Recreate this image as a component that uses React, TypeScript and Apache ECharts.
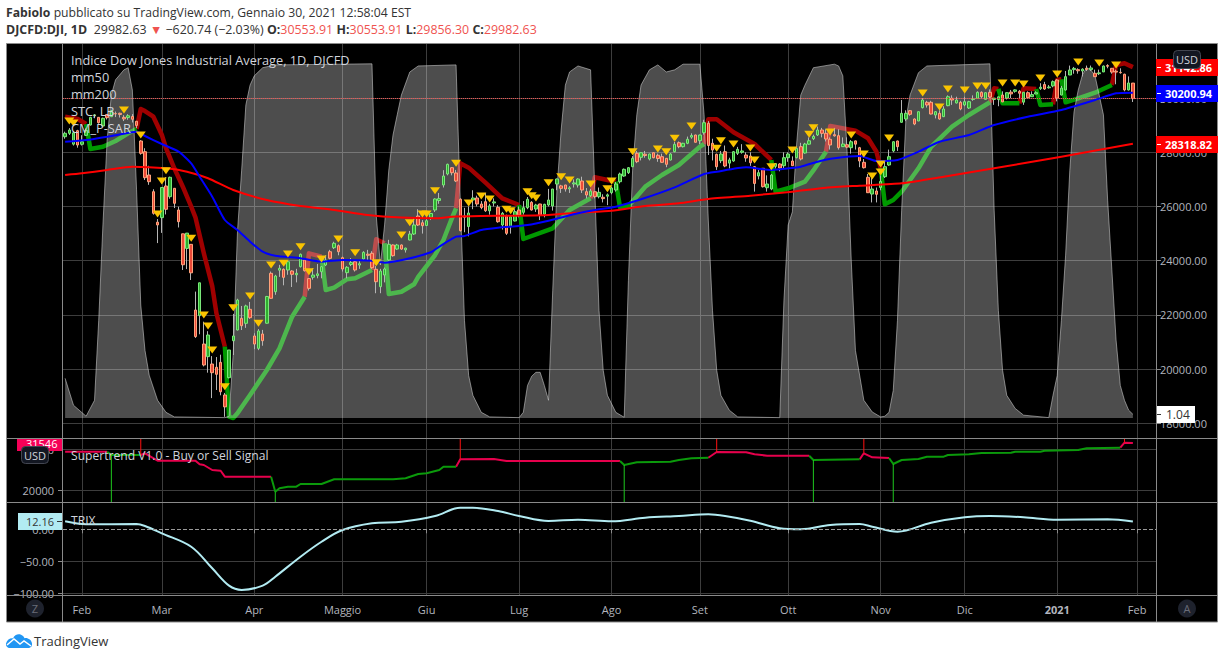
import React, { useEffect, useRef } from "react";
import * as echarts from "echarts";

const FONT = '"Open Sans", "Noto Sans", sans-serif';
const BAR_COUNT = 260;
const categories = Array.from({ length: BAR_COUNT }, (_, i) => String(i));
const monthLabels: Record<number, string> = {
  4: "Feb", 23: "Mar", 45: "Apr", 66: "Maggio", 86: "Giu", 108: "Lug", 130: "Ago",
  151: "Set", 172: "Ott", 194: "Nov", 214: "Dic", 236: "2021", 255: "Feb",
};

// [open, high, low, close]
const ohlc: number[][] = [
  [28575,28760,28500,28700],[28700,28892,28640,28823],[28300,28780,28250,28720],[28797,28830,28170,28269],[28295,28630,28250,28390],
  [28627,28879,28600,28807],[29007,29308,28992,29290],[29350,29408,29256,29379],[29290,29300,29056,29092],[28970,29278,28950,29255],
  [29390,29415,29210,29276],[29314,29568,29300,29535],[29428,29504,29300,29423],[29440,29463,29283,29398],[29290,29371,29152,29232],
  [29280,29406,29200,29348],[29320,29409,29100,29219],[29146,29146,28892,28992],[28417,28450,27912,27963],[28022,28150,26978,27063],
  [27162,27502,26800,26915],[26546,26636,25700,25749],[25420,25538,24650,25320],[25590,26703,25026,26703],[26756,27084,25706,25897],
  [26362,27102,26286,27077],[26672,26672,25943,26118],[25871,25994,25226,25440],[24992,24992,23657,23851],[24453,25020,23690,25018],
  [24604,24604,23288,23553],[22180,22860,21150,21200],[21973,23185,21285,23185],[20925,21750,20100,20152],[20460,21400,19868,21258],
  [20188,20480,18930,19868],[20067,20445,19230,19808],[20250,20531,19034,19165],[19045,19120,18240,18607],[19683,20705,19660,20705],
  [21048,22040,20520,21222],[21443,22595,21427,22550],[21875,22330,21443,21600],[21690,22378,21522,22330],[22206,22480,21852,21897],
  [21222,21323,20735,20925],[20767,21477,20700,21406],[21296,21447,20863,21048],[21693,22700,21680,22680],[23535,23600,22600,22613],
  [22856,23480,22742,23435],[23650,23848,23403,23720],[23683,23716,23092,23387],[23657,23995,23480,23963],[23620,23650,23030,23498],
  [23480,23700,23200,23537],[23778,24264,23750,24236],[24026,24050,23600,23630],[23340,23350,22900,22980],[23390,23720,23300,23470],
  [23450,23880,23350,23515],[23594,23800,23350,23778],[23841,24200,23800,24026],[24332,24400,24050,24088],[24480,24700,24430,24642],
  [24554,24600,24200,24332],[24111,24150,23600,23694],[23558,23800,23350,23757],[23860,24100,23800,23930],[23963,24000,23600,23657],
  [23840,24000,23700,23890],[24063,24350,24000,24310],[24240,24400,24000,24200],[24273,24350,23700,23742],[23683,23800,22800,23225],
  [23041,23700,22800,23620],[23472,23750,23200,23694],[24026,24770,24000,24605],[24580,24600,24150,24185],[24430,24620,24400,24580],
  [24580,24600,24400,24430],[24400,24480,24300,24465],[24764,25100,24750,24985],[24985,25600,24950,25317],[25649,25900,25280,25317],
  [25400,25500,25000,25290],[25300,25550,25280,25475],[25600,25750,25500,25742],[25871,26300,25800,26277],[26220,26500,26100,26290],
  [26793,27340,26700,27125],[27199,27580,27150,27557],[27432,27450,27150,27247],[27236,27350,26900,26941],[26270,26300,25080,25107],
  [25650,25950,25050,25605],[25260,26000,24900,25760],[26240,26600,25900,26314],[26314,26400,26000,26092],[26092,26200,25900,25960],
  [26177,26500,25800,25845],[25840,26100,25700,26024],[26130,26300,26000,26170],[25970,26050,25400,25439],[25317,25800,25150,25749],
  [25649,25700,24950,25011],[25255,25640,25000,25624],[25465,25900,25450,25808],[25871,26000,25600,25686],[25786,26200,25700,25956],
  [25956,26350,25900,26266],[26155,26200,25850,25871],[25907,26100,25800,26055],[26092,26100,25500,25686],[25712,26100,25600,26081],
  [26055,26650,26000,26240],[26018,26650,25850,26645],[26830,27030,26600,27015],[26760,26800,26500,26670],[26793,26800,26550,26645],
  [26650,26750,26500,26690],[26830,27000,26700,26870],[26793,27040,26700,27015],[26941,27100,26500,26609],[26546,26680,26300,26424],
  [26398,26650,26350,26572],[26546,26550,26300,26362],[26362,26700,26300,26524],[26340,26450,26150,26290],[26380,26480,26050,26430],
  [26509,26730,26450,26683],[26609,26900,26550,26830],[26915,27250,26850,27199],[27125,27400,27100,27373],[27247,27450,27200,27432],
  [27469,27860,27450,27779],[27963,28050,27600,27653],[27816,28000,27700,27985],[27930,28050,27800,27880],[27753,27950,27700,27937],
  [27985,28000,27780,27800],[27890,27950,27650,27770],[27838,27950,27620,27631],[27779,27780,27450,27557],[27716,27970,27700,27937],
  [28022,28380,28000,28295],[28354,28400,28150,28207],[28207,28350,28180,28332],[28332,28580,28300,28480],[28560,28700,28500,28620],
  [28638,28650,28369,28369],[28428,28650,28300,28638],[28723,29200,28650,29092],[29070,29150,27900,28250],[28332,28500,27700,28085],
  [27926,27950,27350,27469],[27690,28050,27600,27937],[28022,28250,27450,27494],[27600,27800,27400,27720],[27679,28050,27650,28022],
  [27963,28200,27900,28110],[28000,28300,27950,28050],[27900,28000,27650,27790],[27863,28000,27500,27616],[27469,27480,26550,26850],
  [27125,27350,27000,27247],[27410,27420,26700,26731],[26693,27150,26550,26830],[26645,27200,26600,27162],[27480,27600,27400,27584],
  [27568,27600,27300,27420],[27505,28000,27400,27800],[27800,28000,27650,27937],[27679,27850,27500,27505],[27800,28150,27780,28149],
  [28207,28350,27700,27753],[27974,28350,27950,28306],[28300,28550,28280,28426],[28500,28650,28450,28587],[28638,28950,28600,28823],
  [28823,28900,28550,28700],[28700,28850,28400,28490],[28480,28550,28100,28270],[28650,28900,28580,28606],[28613,28850,28100,28170],
  [28207,28550,28200,28306],[28280,28550,28150,28190],[28170,28450,27950,28390],[28420,28430,28100,28300],[28170,28200,27450,27679],
  [27630,27750,27400,27432],[27077,27200,26500,26509],[26460,27050,26150,26645],[26572,26700,26150,26450],[26700,27150,26600,26925],
  [27100,27650,27050,27469],[27531,28100,27500,27838],[28048,28400,28000,28390],[28417,28430,28050,28207],[29107,29930,29100,29439],
  [29229,29550,29150,29439],[29535,29560,29350,29402],[29229,29250,29000,29044],[29155,29500,29150,29498],[29646,30000,29620,29930],
  [29845,29900,29650,29745],[29845,29900,29400,29413],[29376,29520,29250,29498],[29439,29550,29200,29229],[29314,29700,29300,29598],
  [29720,30100,29700,30051],[29993,30100,29750,29930],[29820,30050,29800,29930],[29845,29900,29550,29598],[29745,30050,29700,29867],
  [29634,29900,29600,29867],[29950,30100,29900,29969],[29993,30250,29980,30214],[30214,30250,30000,30051],[29955,30200,29940,30199],
  [30214,30320,30000,30040],[29950,30000,29750,29999],[29950,30050,29700,30046],[30114,30250,29850,29861],[30000,30200,29950,30199],
  [30220,30300,30000,30154],[30250,30320,30200,30303],[30250,30300,30000,30179],[29850,30200,29750,30216],[30200,30250,30000,30015],
  [30050,30250,30050,30129],[30150,30250,30150,30199],[30350,30550,30300,30403],[30500,30600,30300,30335],[30380,30480,30350,30409],
  [30450,30650,30400,30606],[30668,30700,29880,30000],[30114,30450,30100,30370],[30299,31000,30280,30790],[30852,31200,30850,31037],
  [31050,31150,30900,31097],[31050,31100,30900,31008],[31000,31100,30800,31068],[31100,31200,31000,31060],[31050,31200,31000,31112],
  [30915,31050,30780,30790],[30900,31050,30850,30930],[30965,31200,30960,31184],[31200,31250,31100,31176],[31100,31100,30900,30960],
  [30990,31050,30510,30960],[30950,31100,30900,30937],[30880,30900,30250,30303],[30299,30800,30280,30558],[30553.91,30553.91,29856.3,29982.63],
];

const mm50: number[][] = [
  [0,28391],[5,28454],[11,28601],[17,28760],[19,28601],[23,28306],[27,28022],[30,27594],[32,27100],[35,26362],[38,25502],[41,25133],
  [44,24701],[47,24332],[50,24185],[56,24089],[61,23963],[66,24026],[73,24000],[76,23926],[81,24052],[87,24310],[89,24517],[93,24886],
  [95,24911],[99,25133],[103,25218],[110,25318],[115,25476],[122,25749],[127,25897],[131,25993],[137,26266],[145,26708],[152,27199],
  [155,27284],[162,27447],[168,27347],[170,27373],[175,27469],[179,27653],[183,27779],[189,27863],[193,27679],[198,27716],[203,28022],
  [208,28391],[215,28638],[221,29007],[229,29314],[237,29561],[245,29930],[250,30177],[254,30200.94],
];
const mm200: number[][] = [
  [0,27162],[4,27225],[10,27347],[16,27469],[24,27410],[29,27284],[34,27041],[40,26609],[48,26240],[56,26018],[64,25871],[72,25686],
  [80,25594],[88,25565],[92,25624],[99,25650],[107,25661],[115,25686],[122,25771],[130,25845],[138,26018],[146,26118],[153,26277],
  [163,26399],[173,26546],[181,26694],[189,26768],[199,26856],[209,27100],[221,27410],[237,27838],[254,28318.82],
];
const stc: number[][] = [
  [0,11.2],[2,3.6],[5,0.5],[7,5],[8,27.6],[9,54.5],[10,78.5],[11,91.2],[12,95.5],[14,98.3],[15,98.9],[16,92.6],[17,64.4],[18,31.9],[19,19.1],[20,12.1],
  [22,5],[24,1.6],[26,0.3],[38,0.1],[39,0.5],[40,18.3],[41,52.5],[42,70],[43,88.4],[44,94],[45,96.6],[47,98.9],[50,99.7],[73,100],[74,57.3],[75,43.2],
  [76,54.5],[77,70],[78,79.9],[79,85.6],[80,91.2],[82,97.7],[84,99.4],[93,99.7],[94,61.5],[95,27.6],[96,12],[97,6.4],[99,1.6],[101,0.3],[108,0.1],[109,1.6],
  [110,9.2],[111,11.8],[112,12.9],[113,12.9],[114,9.2],[115,5],[116,36.1],[117,64.4],[118,81.3],[119,94],[120,97.7],[122,99.4],[125,98.3],[126,64.4],
  [127,30.4],[128,13.5],[129,6.4],[131,1.6],[133,0.2],[134,38.9],[135,70],[136,85.6],[137,94],[139,98.3],[141,99.7],[143,97.7],[145,98.3],[147,99.9],
  [151,99.9],[152,85.6],[153,55.9],[154,30.4],[155,13.5],[156,6.4],[158,2.2],[160,0.3],[170,0.1],[171,33.3],[172,54.5],[173,58.2],[174,77.1],[175,91.2],
  [176,94],[178,98.9],[183,99.9],[184,99.4],[185,96.6],[186,75.7],[187,44.6],[188,19.1],[190,5],[192,1.7],[194,0.3],[195,0.5],[196,1.6],[197,7.8],[198,27.6],
  [199,58.7],[200,84.2],[201,91.2],[203,97.5],[205,99.4],[220,100],[221,58.7],[222,30.4],[223,13.5],[224,6.4],[226,2.7],[228,0.8],[234,0.1],[235,6.4],
  [236,12],[237,27.6],[238,46],[239,70],[240,86.4],[241,92.6],[242,96.9],[243,98.9],[244,98.3],[245,96.6],[247,85.6],[248,61.5],[249,41.8],[250,22],
  [251,9.2],[252,5],[253,2.2],[254,1.04],
];
const stopUp: number[][][] = [
  [[5,29044],[6,28125],[9,28207],[12,28417],[15,28700],[17,28860]],
  [[38,20827],[39,18244],[40,18195],[41,18368],[44,19045],[48,19967],[51,20768],[54,21934],[57,22672]],
  [[61,24148],[62,22919],[64,23004],[67,23314],[69,23350],[73,23657]],
  [[76,24643],[77,22770],[80,22856],[83,23129],[84,23400],[88,24210],[90,24764],[92,25560],[93,25934]],
  [[108,26055],[109,24801],[116,25195],[120,25871],[125,26303]],
  [[131,26915],[132,25971],[134,26018],[138,26731],[142,27162],[146,27531],[151,28207],[152,28306]],
  [[168,27716],[169,26546],[172,26672],[176,26915],[178,27330],[181,28022]],
  [[194,27410],[195,26081],[197,26240],[199,26546],[203,27410],[206,28200],[211,28945],[215,29377],[220,29845]],
  [[222,30336],[223,29808],[227,29808]],
  [[231,30336],[232,29745],[235,29771]],
  [[237,30692],[238,29845],[241,29993],[245,30199],[249,30483]],
];
const stopDown: number[][][] = [
  [[0,29314],[3,29229],[5,29044]],
  [[17,28860],[18,29598],[19,29520],[21,29314],[23,28650],[24,28150],[26,27400],[28,26731],[30,25993],[31,25600],[33,24273],[35,23060],[36,22059],[38,20827]],
  [[57,22672],[58,24273],[61,24148]],
  [[73,23657],[74,24790],[76,24643]],
  [[93,25934],[94,27594],[96,27432],[100,26880],[104,26303],[108,26055]],
  [[125,26303],[126,27077],[129,26980],[131,26915]],
  [[152,28306],[153,29218],[155,29218],[159,28738],[164,28306],[168,27716]],
  [[181,28022],[182,28970],[188,28800],[191,28517],[193,28022],[194,27410]],
  [[220,29845],[221,30362],[222,30336]],
  [[227,29808],[228,30362],[231,30336]],
  [[235,29771],[236,30668],[237,30692]],
  [[249,30483],[250,31221],[252,31284],[254,31142.86]],
];
const sarMarks: number[][] = [
  [1,29155],[2,29081],[14,29561],[18,28638],[24,27321],[23,26941],[22,25723],[30,24827],[33,21996],[34,21590],[35,20705],[38,19351],[40,22266],
  [44,22698],[46,21690],[49,23841],[52,23904],[53,24247],[56,24517],[58,23594],[61,24063],[65,24801],[69,24295],[74,23926],[80,24948],[82,25402],
  [85,25723],[86,25723],[88,26583],[93,27594],[96,26129],[99,26387],[101,26277],[105,25897],[106,25845],[110,26546],[111,26398],[112,26314],[115,26878],
  [118,27100],[120,26978],[125,26830],[129,26657],[130,26941],[135,28022],[141,28122],[143,28022],[145,28517],[149,28970],[155,28148],[156,28428],
  [159,28306],[163,28159],[164,27716],[168,27469],[173,28085],[177,28664],[178,28908],[182,28749],[187,28638],[190,27937],[192,27125],[194,27568],
  [194,27273],[196,28528],[204,30188],[208,29672],[210,30336],[214,30299],[217,30447],[219,30447],[223,30557],[226,30557],[228,30520],[232,30742],
  [236,30889],[241,31332],[246,31295],[250,31221],
];
const superDown: number[][][] = [
  [[0,29415],[10,29415]],
  [[18,28610],[19,29024],[22,27220],[31,27220],[32,26340],[33,26170],[35,24950],[37,24780],[38,23320],[49,23320]],
  [[93,25760],[94,27560],[102,27630],[105,27150],[132,27150]],
  [[153,27950],[155,29340],[162,29270],[164,28780],[167,28440],[177,28440]],
  [[189,27560],[190,29024],[192,28050],[196,27880]],
  [[251,30390],[252,31610],[254,31546]],
];
const superUp: number[][][] = [
  [[10,29415],[11,28610],[18,28610]],
  [[49,23320],[50,19660],[51,20490],[53,20880],[55,20880],[56,21540],[61,21540],[64,22680],[78,22680],[81,22930],[84,23980],[86,24150],[89,24950],[90,25760],[93,25760]],
  [[132,27150],[133,26170],[136,26830],[144,26980],[146,27390],[149,27800],[153,27950]],
  [[177,28440],[178,27390],[189,27560]],
  [[196,27880],[197,26410],[199,27390],[203,27630],[205,28200],[209,28200],[210,28610],[215,28780],[218,29100],[225,29170],[226,29415],[232,29415],[233,29660],[241,29830],[243,30240],[251,30390]],
];
const buySignals: number[][] = [[11,28610],[50,19660],[133,26170],[178,27390],[197,26410]];
const sellSignals: number[][] = [[18,28610],[94,27560],[155,29340],[190,29024],[252,31610]];
const trix: number[][] = [
  [0,12.5],[5,7.8],[17,8.3],[19,5.2],[23,-6.3],[30,-27.2],[35,-60.9],[39,-88.1],[42,-94.8],[47,-88.1],[50,-74.1],[56,-42.8],[61,-19.4],[66,-1.1],
  [73,9.4],[80,11.9],[88,20.8],[94,33.8],[97,33.8],[103,28.6],[108,20.8],[115,13],[122,15],[130,12.5],[138,18.1],[146,20.8],[153,23.4],[157,20.8],
  [163,13.4],[170,1.6],[175,0],[182,6.7],[189,8.3],[192,4.1],[198,-3.8],[206,10.3],[214,18.8],[220,20.8],[228,18.8],[236,15],[248,15.6],[254,12.16],
];
const priceTicks = [18000, 20000, 22000, 24000, 26000, 28000, 30000];
const superTicks = [20000, 30000];
const trixLabelTicks = [-100, -50, 0];
const trixGridTicks = [-100, -50];

echarts.graphic.registerShape(
  "tvcloud",
  echarts.graphic.extendPath(
    "M0 9.5C1 6 4 4 7 4.4C8.5 1 12 -0.5 15 0.8C17 1.6 18 3 18.5 4.2C22 3.6 25.5 6 26 9.5C26.4 12.5 24.5 14 22 14L4 14C1.5 14 -0.4 12 0 9.5Z",
    {}
  )
);

const isMonth = (i: number) => monthLabels[i] !== undefined;

function xAxisOf(gridIndex: number, showLabels: boolean) {
  return {
    type: "category",
    gridIndex,
    data: categories,
    boundaryGap: true,
    axisLine: { show: false },
    axisTick: {
      show: showLabels,
      alignWithLabel: true,
      interval: (i: number) => isMonth(i),
      length: 4,
      lineStyle: { color: "#8a8a8a" },
    },
    axisLabel: {
      show: showLabels,
      interval: (i: number) => isMonth(i),
      hideOverlap: false,
      formatter: (_v: string, i: number) =>
        monthLabels[i] === "2021" ? "{b|2021}" : monthLabels[i] ?? "",
      color: "#b2b5be",
      fontFamily: FONT,
      fontSize: 11,
      margin: 9,
      rich: { b: { fontWeight: "bold", color: "#b2b5be", fontFamily: FONT, fontSize: 11 } },
    },
    splitLine: {
      show: true,
      alignWithLabel: true,
      interval: (i: number) => isMonth(i),
      lineStyle: { color: "#3d3d3d", width: 1 },
    },
  };
}

function pricedLine(data: number[][], color: string, width: number, z: number, extra: object = {}) {
  return {
    type: "line",
    xAxisIndex: 0,
    yAxisIndex: 0,
    data,
    showSymbol: false,
    symbol: "none",
    z,
    lineStyle: { color, width, join: "round" },
    ...extra,
  };
}

function superLine(data: number[][], color: string, width: number) {
  return {
    type: "line",
    xAxisIndex: 1,
    yAxisIndex: 2,
    data,
    showSymbol: false,
    symbol: "none",
    z: 3,
    lineStyle: { color, width },
  };
}

const label = (x: number, y: number, text: string, fill: string, size = 12, weight = "normal", align = "left") => ({
  type: "text",
  x,
  y,
  z: 60,
  style: { text, fill, font: `${weight} ${size}px ${FONT}`, textAlign: align, textVerticalAlign: "middle" },
});
const box = (x: number, y: number, w: number, h: number, fill: string, r = 0, stroke?: string) => ({
  type: "rect",
  z: 50,
  shape: { x, y, width: w, height: h, r },
  style: { fill, stroke },
});
const rule = (x1: number, y1: number, x2: number, y2: number, color = "#8a8a8a", z = 40) => ({
  type: "line",
  z,
  shape: { x1, y1, x2, y2 },
  style: { stroke: color, lineWidth: 1 },
});

function buildOption() {
  const wicks = ohlc.map(([o, h, l, c]) => [o, c, l, h]);
  const bodies = ohlc.map(([o, , , c]) => [o, c, Math.min(o, c), Math.max(o, c)]);
  return {
    animation: false,
    backgroundColor: "#ffffff",
    grid: [
      { left: 63, width: 1093, top: 44, height: 394 },
      { left: 63, width: 1093, top: 438, height: 64 },
      { left: 63, width: 1093, top: 502, height: 93 },
    ],
    xAxis: [xAxisOf(0, false), xAxisOf(1, false), xAxisOf(2, true)],
    yAxis: [
      {
        type: "value",
        gridIndex: 0,
        position: "right",
        min: 17458,
        max: 31996,
        axisLine: { show: false },
        axisTick: { show: true, length: 5, customValues: priceTicks, lineStyle: { color: "#8a8a8a" } },
        axisLabel: {
          customValues: priceTicks,
          formatter: (v: number) => v.toFixed(2),
          color: "#b2b5be",
          fontFamily: FONT,
          fontSize: 11,
          margin: 4,
        },
        splitLine: { show: true, lineStyle: { color: "#3d3d3d" } },
      },
      { type: "value", gridIndex: 0, min: -5.65, max: 105.6, show: false, splitLine: { show: false } },
      {
        type: "value",
        gridIndex: 1,
        position: "left",
        min: 17146,
        max: 32756,
        axisLine: { show: false },
        axisTick: { show: true, length: 5, customValues: superTicks, lineStyle: { color: "#8a8a8a" } },
        axisLabel: { customValues: superTicks, color: "#b2b5be", fontFamily: FONT, fontSize: 11, margin: 9, formatter: (v: number) => String(v) },
        splitLine: { show: true, lineStyle: { color: "#3d3d3d" } },
      },
      {
        type: "value",
        gridIndex: 2,
        position: "left",
        min: -102.7,
        max: 42.7,
        axisLine: { show: false },
        axisTick: { show: true, length: 5, customValues: trixLabelTicks, lineStyle: { color: "#8a8a8a" } },
        axisLabel: {
          customValues: trixLabelTicks,
          color: "#b2b5be",
          fontFamily: FONT,
          fontSize: 11,
          margin: 9,
          formatter: (v: number) => (v < 0 ? "\u2212" + Math.abs(v).toFixed(2) : v.toFixed(2)),
        },
        splitLine: { show: false },
      },
      {
        type: "value",
        gridIndex: 2,
        position: "left",
        min: -102.7,
        max: 42.7,
        axisLine: { show: false },
        axisTick: { show: false, customValues: trixGridTicks },
        axisLabel: { show: false, customValues: trixGridTicks },
        splitLine: { show: true, lineStyle: { color: "#3d3d3d" } },
      },
    ],
    graphic: {
      elements: [
        { type: "rect", z: -100, silent: true, shape: { x: 6.5, y: 43.5, width: 1211, height: 578.5 }, style: { fill: "#000000", stroke: "#8a8a8a", lineWidth: 1 } },
        rule(62.5, 44, 62.5, 622),
        rule(1156.5, 44, 1156.5, 622),
        rule(6, 438.5, 1217, 438.5),
        rule(6, 502.5, 1217, 502.5),
        rule(6, 595.5, 1217, 595.5),
        {
          type: "text",
          x: 6,
          y: 12,
          z: 60,
          style: {
            text: "{b|Fabiolo} {n|pubblicato su TradingView.com, Gennaio 30, 2021 12:58:04 EST}",
            textVerticalAlign: "middle",
            rich: {
              b: { font: `bold 12.2px ${FONT}`, fill: "#333333" },
              n: { font: `12.2px ${FONT}`, fill: "#333333" },
            },
          },
        },
        {
          type: "text",
          x: 6,
          y: 29,
          z: 60,
          style: {
            text: "{b|DJCFD:DJI, 1D}  {n|29982.63} {r|\u25BC} {n|\u2212620.74 (\u22122.03%)} {b|O:}{r|30553.91} {b|H:}{r|30553.91} {b|L:}{r|29856.30} {b|C:}{r|29982.63}",
            textVerticalAlign: "middle",
            rich: {
              b: { font: `bold 12.4px ${FONT}`, fill: "#333333" },
              n: { font: `12.4px ${FONT}`, fill: "#333333" },
              r: { font: `12.4px ${FONT}`, fill: "#ef5350" },
            },
          },
        },
        label(71, 60, "Indice Dow Jones Industrial Average, 1D, DJCFD", "#d1d4dc", 12.75),
        label(71, 77, "mm50", "#d1d4dc", 12.75),
        label(71, 94, "mm200", "#d1d4dc", 12.75),
        label(71, 111, "STC, LB", "#d1d4dc", 12.75),
        label(71, 128, "CM_P-SAR", "#d1d4dc", 12.75),
        label(71, 455, "Supertrend V1.0 - Buy or Sell Signal", "#d1d4dc", 12.1),
        label(71, 520, "TRIX", "#d1d4dc", 12.1),
        box(1156, 59, 62, 17, "#ff0000"),
        rule(1157, 67.5, 1161, 67.5, "#ffffff", 55),
        label(1165, 67.5, "31142.86", "#ffffff", 11, "bold"),
        box(1156, 85, 62, 17, "#0000ff"),
        rule(1157, 93.5, 1161, 93.5, "#ffffff", 55),
        label(1165, 93.5, "30200.94", "#ffffff", 11, "bold"),
        box(1156, 136, 62, 17, "#ff0000"),
        rule(1157, 144.5, 1161, 144.5, "#ffffff", 55),
        label(1165, 144.5, "28318.82", "#ffffff", 11, "bold"),
        box(1157, 406, 38, 17, "#ffffff"),
        rule(1157, 414.5, 1161, 414.5, "#333333", 55),
        label(1166, 414, "1.04", "#333333", 12),
        { ...box(1173.5, 50.5, 27, 18, "#131722", 4, "#434651"), z: 70 },
        { ...label(1187, 59.5, "USD", "#d1d4dc", 11, "normal", "center"), z: 71 },
        box(17, 439, 45, 12, "#f50057"),
        label(26, 443, "31546", "#ffffff", 11),
        { ...box(21.5, 446.5, 27, 17, "#131722", 4, "#434651"), z: 70 },
        { ...label(35, 455, "USD", "#d1d4dc", 11, "normal", "center"), z: 71 },
        box(18, 513, 44, 17, "#b2ebf2"),
        rule(57, 521.5, 62, 521.5, "#333333", 55),
        label(26, 521.5, "12.16", "#333333", 11),
        { type: "circle", z: 50, shape: { cx: 35, cy: 608.5, r: 9 }, style: { fill: "#1e222d" } },
        label(35, 608, "Z", "#6a6d78", 11, "normal", "center"),
        { type: "circle", z: 50, shape: { cx: 1187, cy: 608.5, r: 9 }, style: { fill: "#1e222d" } },
        label(1187, 608, "A", "#6a6d78", 11, "normal", "center"),
        { type: "tvcloud", x: 6, y: 634, z: 60, style: { fill: "#2196f3" } },
        { type: "polyline", z: 61, shape: { points: [[1, 11], [8, 5], [14, 10], [18, 7], [25, 12]] }, x: 6, y: 634, style: { stroke: "#ffffff", fill: "none", lineWidth: 1.5 } },
        label(34, 641, "TradingView", "#333333", 13),
      ],
    },
    series: [
      ...stopDown.map((d) => pricedLine(d, "#a00000", 4.5, 1)),
      ...stopUp.map((d) => pricedLine(d, "#009900", 4.5, 1)),
      {
        type: "line",
        name: "STC",
        xAxisIndex: 0,
        yAxisIndex: 1,
        data: stc,
        showSymbol: false,
        symbol: "none",
        z: 2,
        lineStyle: { color: "rgba(215,215,215,0.55)", width: 1 },
        areaStyle: { color: "rgba(255,255,255,0.3)", opacity: 1, origin: 0 },
      },
      {
        type: "candlestick",
        name: "DJCFD wicks",
        xAxisIndex: 0,
        yAxisIndex: 0,
        data: wicks,
        barWidth: 1,
        z: 3,
        itemStyle: { color: "#b5b5b5", color0: "#b5b5b5", borderColor: "#b5b5b5", borderColor0: "#b5b5b5", borderWidth: 1 },
        markLine: {
          silent: true,
          symbol: "none",
          label: { show: false },
          lineStyle: { color: "#ef5350", type: "dotted", width: 1 },
          data: [{ yAxis: 29982.63 }],
        },
      },
      {
        type: "candlestick",
        name: "DJCFD",
        xAxisIndex: 0,
        yAxisIndex: 0,
        data: bodies,
        barWidth: 3,
        z: 4,
        itemStyle: { color: "#2eb02e", color0: "#ea4a38", borderColor: "#7ae87a", borderColor0: "#ffa47c", borderWidth: 1 },
      },
      pricedLine(mm200, "#ff0000", 2, 5, { smooth: 0.2, name: "mm200" }),
      pricedLine(mm50, "#0000ff", 2, 5, { smooth: 0.2, name: "mm50" }),
      {
        type: "scatter",
        name: "CM_P-SAR",
        xAxisIndex: 0,
        yAxisIndex: 0,
        data: sarMarks,
        symbol: "triangle",
        symbolRotate: 180,
        symbolSize: [10, 7],
        z: 6,
        itemStyle: { color: "#fac400", opacity: 1 },
      },
      ...superDown.map((d) => superLine(d, "#e6004c", 2)),
      ...superUp.map((d) => superLine(d, "#0b9a0b", 2)),
      ...buySignals.map(([i, v]) => superLine([[i, 17146], [i, v]], "#1ec81e", 1)),
      ...sellSignals.map(([i, v]) => superLine([[i, 32756], [i, v]], "#ff1010", 1)),
      {
        type: "line",
        name: "TRIX",
        xAxisIndex: 2,
        yAxisIndex: 3,
        data: trix,
        showSymbol: false,
        symbol: "none",
        smooth: 0.35,
        z: 3,
        lineStyle: { color: "#b2ebf2", width: 2 },
        markLine: {
          silent: true,
          symbol: "none",
          label: { show: false },
          lineStyle: { color: "#9a9a9a", type: "dashed", width: 1 },
          data: [{ yAxis: 0 }],
        },
      },
    ],
  };
}

export default function App() {
  const ref = useRef<HTMLDivElement>(null);
  useEffect(() => {
    document.body.style.margin = "0";
    const chart = echarts.init(ref.current as HTMLDivElement, undefined, { renderer: "svg" });
    chart.setOption(buildOption() as any);
    return () => chart.dispose();
  }, []);
  return <div ref={ref} style={{ position: "absolute", left: 0, top: 0, width: 1225, height: 659 }} />;
}
